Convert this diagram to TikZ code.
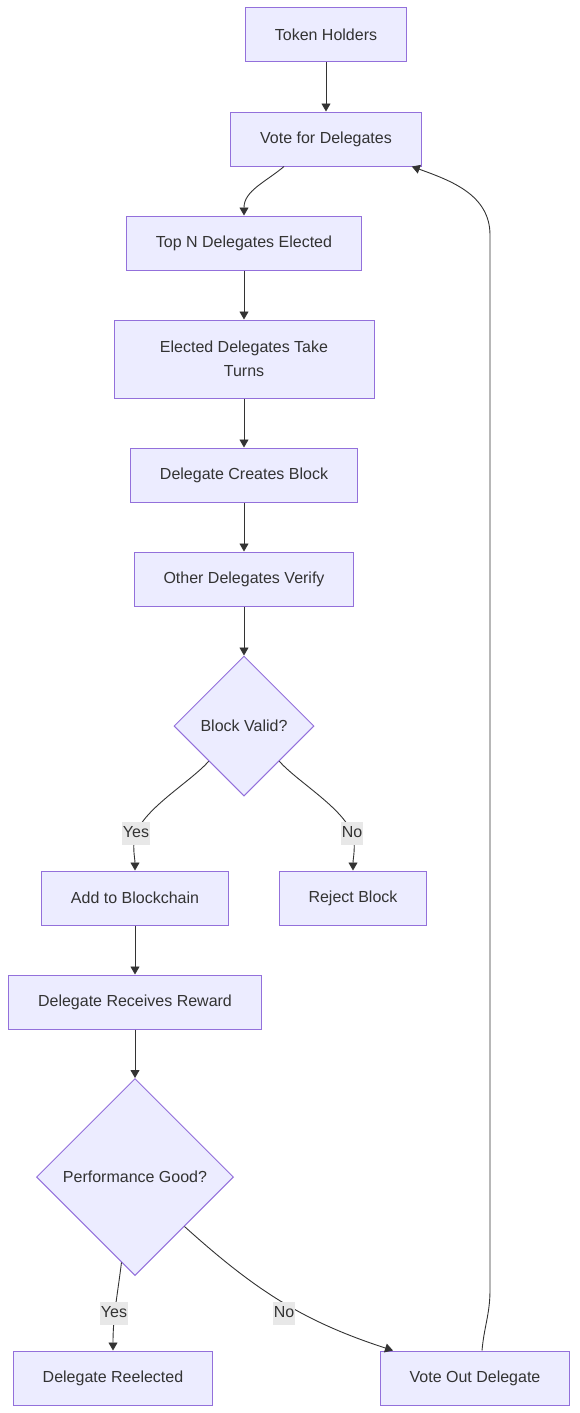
\documentclass[tikz,border=0pt]{standalone}
\usepackage{fontspec}
\setmainfont{Liberation Sans}
\usetikzlibrary{positioning, arrows.meta, shapes.geometric, calc}
\definecolor{boxfill}{HTML}{ECECFF}
\definecolor{boxline}{HTML}{9370DB}
\definecolor{ink}{HTML}{333333}
\definecolor{lblfill}{HTML}{E8E8E8}

\begin{document}
\begin{tikzpicture}[x=1pt, y=1pt, on grid,
		font=\fontsize{16}{24}\selectfont, text=ink,
		box/.style={draw=boxline, fill=boxfill, line width=1pt, inner xsep=29.5pt, minimum height=54pt, align=center},
		decision/.style={diamond, aspect=1, draw=boxline, fill=boxfill, line width=1pt, inner sep=0pt},
		lbl/.style={fill=lblfill, inner xsep=1pt, inner ysep=4pt, text height=12pt, text depth=3pt},
		arr/.style={draw=ink, line width=0.9pt, -{Triangle[length=8pt, width=9pt]}}]
			\useasboundingbox (0,0) rectangle (579,-1413);
			\node[box] (th) at (326,-35) {Token Holders};
			\node[box, below=104pt of th] (vfd) {Vote for Delegates};
			\node[box, below left=104pt and 82pt of vfd] (topn) {Top N Delegates Elected};
			\node[box, below=116pt of topn, minimum height=78pt, minimum width=260pt] (edt) {Elected Delegates Take\\Turns};
			\node[box, below=116pt of edt] (dcb) {Delegate Creates Block};
			\node[box, below=104pt of dcb] (odv) {Other Delegates Verify};
			\node[decision, below=147pt of odv, minimum size=140pt] (bv) {Block Valid?};
			\node[box, below left=172pt and 109pt of bv] (add) {Add to Blockchain};
			\node[box, below right=172pt and 109pt of bv] (rej) {Reject Block};
			\node[box, below=104pt of add] (drr) {Delegate Receives Reward};
			\node[decision, below=175pt of drr, minimum size=197pt] (pg) {Performance Good?};
			\node[box, below left=201pt and 22pt of pg] (reel) {Delegate Reelected};
			\node[box, below right=201pt and 340pt of pg] (vod) {Vote Out Delegate};
			
			% label spots
			\coordinate (yes1) at (136,-833);
			\coordinate (no1) at (352,-833);
			\coordinate (yes2) at (114,-1313);
			\coordinate (no2) at (284,-1313);
			\coordinate (loopb) at (490,-1290);
			\coordinate (loopt) at (490,-235);
			
			\draw[arr] (th) -- (vfd);
			\draw[arr] ([xshift=-42pt]vfd.south) to[out=-140, in=90] (topn.north);
			\draw[arr] (topn) -- (edt);
			\draw[arr] (edt) -- (dcb);
			\draw[arr] (dcb) -- (odv);
			\draw[arr] (odv) -- (bv);
			\draw[arr] (bv.south west) to[out=-132, in=68, looseness=0.7] (yes1) to[out=-112, in=90, looseness=0.8] (add.north);
			\draw[arr] (bv.south east) to[out=-48, in=112, looseness=0.7] (no1) to[out=-68, in=90, looseness=0.8] (rej.north);
			\draw[arr] (add) -- (drr);
			\draw[arr] (drr) -- (pg);
			\draw[arr] (pg.261) to[out=-97, in=90] (reel.north);
			\draw[arr] (pg.south east) to[out=-42, in=162] ([xshift=-82pt]vod.north);
			\draw[arr] ([xshift=7pt]vod.north) to[out=85, in=-90] (loopb) -- (loopt) to[out=90, in=-20] ([xshift=-10pt]vfd.south east);
			
			\node[lbl] at (yes1) {Yes};
			\node[lbl] at (no1) {No};
			\node[lbl] at (yes2) {Yes};
			\node[lbl] at (no2) {No};
		\end{tikzpicture}
\end{document}
